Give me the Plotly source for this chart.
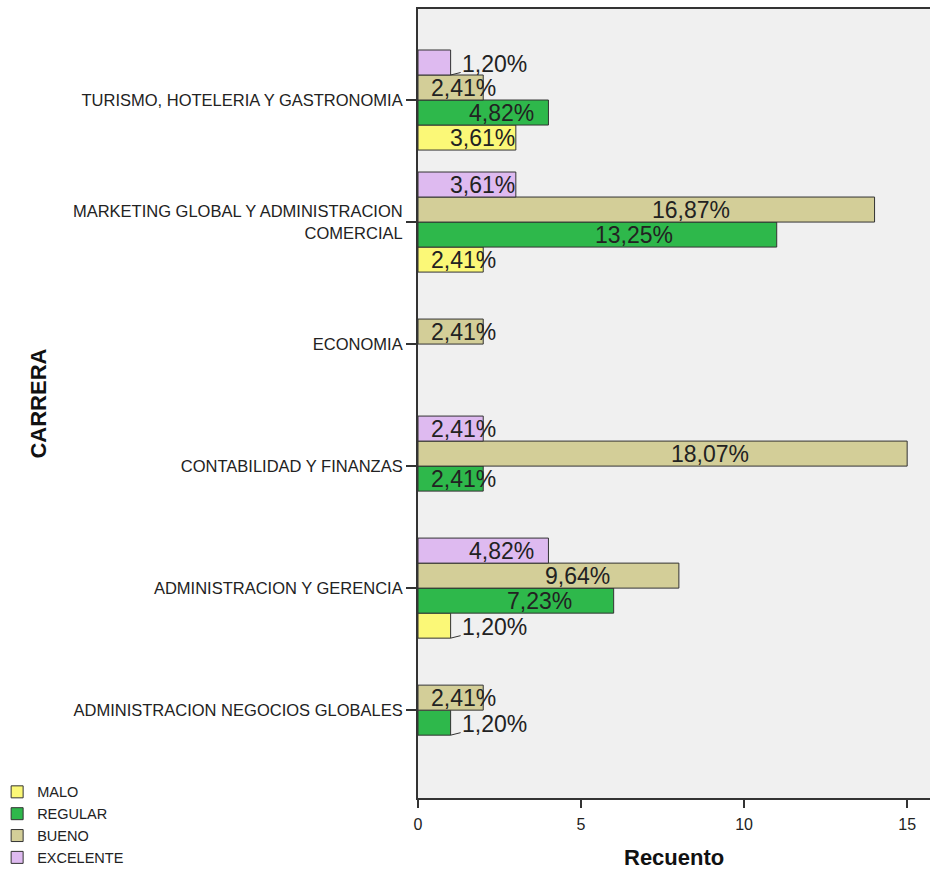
import plotly.graph_objects as go

# Categories as shown top-to-bottom
carreras = [
    "TURISMO, HOTELERIA Y GASTRONOMIA",
    "MARKETING GLOBAL Y ADMINISTRACION<br>COMERCIAL",
    "ECONOMIA",
    "CONTABILIDAD Y FINANZAS",
    "ADMINISTRACION Y GERENCIA",
    "ADMINISTRACION NEGOCIOS GLOBALES",
]
series_names = ["MALO", "REGULAR", "BUENO", "EXCELENTE"]
malo = [3, 2, None, None, 1, None]
regular = [4, 11, None, 2, 6, 1]
bueno = [2, 14, 2, 15, 8, 2]
excelente = [1, 3, None, 2, 4, None]
total_n = 83
x_ticks = [0, 5, 10, 15]

series_values = [malo, regular, bueno, excelente]
colors = ["#FBF877", "#2EB84B", "#D3CE98", "#DEBAF0"]

FONT = "Arial, Liberation Sans, sans-serif"
bargap = 0.18
n_series = len(series_names)
bar_w = (1 - bargap) / n_series

fig = go.Figure()
for name, vals, col in zip(series_names, series_values, colors):
    fig.add_trace(go.Bar(
        y=carreras, x=vals, name=name, orientation="h",
        marker=dict(color=col, line=dict(color="#333333", width=1)),
        hoverinfo="x+y+name",
    ))

annotations = []
n_cat = len(carreras)
for k, vals in enumerate(series_values):
    offset = -(1 - bargap) / 2 + (k + 0.5) * bar_w
    for i, v in enumerate(vals):
        if v is None:
            continue
        yc = (n_cat - 1 - i) + offset
        label = f"{v / total_n * 100:.2f}%".replace(".", ",")
        if v <= 1:
            annotations.append(dict(
                x=v, y=yc - bar_w / 2, xref="x", yref="y",
                text=label, showarrow=True, arrowhead=0, arrowwidth=1,
                arrowcolor="#333333", ax=44, ay=-11,
                font=dict(family=FONT, size=23, color="#222222"),
            ))
        else:
            annotations.append(dict(
                x=0.58 * v + 0.25, y=yc, xref="x", yref="y",
                text=label, showarrow=False, xanchor="center", yanchor="middle",
                font=dict(family=FONT, size=23, color="#222222"),
            ))

# axis titles
annotations.append(dict(
    x=-0.742, y=0.5, xref="paper", yref="paper", text="<b>CARRERA</b>",
    textangle=-90, showarrow=False, xanchor="center", yanchor="middle",
    font=dict(family=FONT, size=22, color="#111111"),
))
annotations.append(dict(
    x=0.5, y=-0.076, xref="paper", yref="paper", text="<b>Recuento</b>",
    showarrow=False, xanchor="center", yanchor="middle",
    font=dict(family=FONT, size=22, color="#111111"),
))

fig.update_layout(
    width=930, height=871,
    margin=dict(l=418, r=0, t=9, b=73, autoexpand=False),
    barmode="group", bargap=bargap, bargroupgap=0,
    plot_bgcolor="#F0F0F0", paper_bgcolor="white",
    font=dict(family=FONT, color="#222222"),
    showlegend=True,
    legend=dict(
        x=-0.822, y=0.028, xanchor="left", yanchor="top",
        font=dict(family=FONT, size=14.5, color="#222222"),
        traceorder="normal", itemwidth=30, bgcolor="rgba(0,0,0,0)",
    ),
    annotations=annotations,
)
fig.update_xaxes(
    range=[0, 15.7], tickvals=x_ticks, ticktext=[str(t) for t in x_ticks],
    showgrid=False, zeroline=False, showline=True, linecolor="#333333",
    linewidth=2, mirror=True, ticks="outside", ticklen=8, tickwidth=1.5,
    tickcolor="#333333", tickfont=dict(family=FONT, size=16, color="#222222"),
    ticklabelstandoff=3, automargin=False,
)
fig.update_yaxes(
    type="category", categoryorder="array", categoryarray=list(reversed(carreras)),
    range=[-0.72, 5.746], showgrid=False, zeroline=False, showline=True,
    linecolor="#333333", linewidth=2, ticks="outside", ticklen=10, tickwidth=1.5,
    tickcolor="#333333", tickfont=dict(family=FONT, size=16.5, color="#222222"),
    automargin=False,
)

fig.write_html(
    "out.html",
    config={"displayModeBar": False},
    post_script="document.body.style.margin='0px';",
)
